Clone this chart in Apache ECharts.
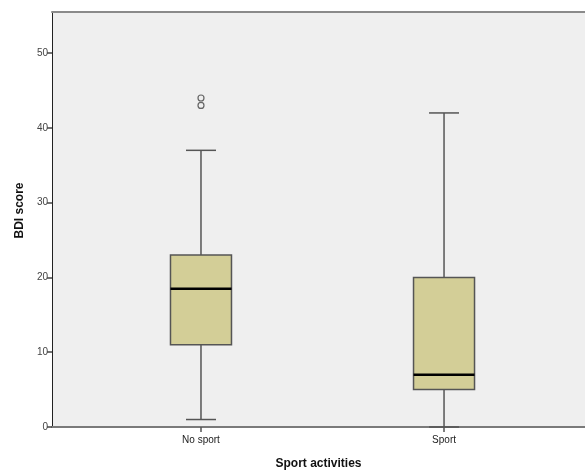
<!DOCTYPE html>
<html>
<head>
<meta charset="utf-8">
<style>
  html, body { margin: 0; padding: 0; background: #ffffff; }
  #chart { width: 585px; height: 475px; }
</style>
<script src="https://cdn.jsdelivr.net/npm/echarts@6/dist/echarts.min.js"></script>
</head>
<body>
<div id="chart"></div>
<script>
// Groups on the horizontal axis and their positions
const categories = ['No sport', 'Sport'];
const categoryPos = [1, 2];

// Five-number summaries per group: [lower whisker, Q1, median, Q3, upper whisker]
const lowerWhisker = [1, 0];
const q1 = [11, 5];
const median = [18.5, 7];
const q3 = [23, 20];
const upperWhisker = [37, 42];

// Outlying values per group
const outliers = [[44, 43], []];

// Vertical axis ticks
const yTicks = [0, 10, 20, 30, 40, 50];

const boxData = categories.map((c, i) => [
  categoryPos[i], lowerWhisker[i], q1[i], median[i], q3[i], upperWhisker[i]
]);
const outlierData = [];
outliers.forEach((vals, i) => vals.forEach(v => outlierData.push([categoryPos[i], v])));

const BOX_W = 61;
const CAP_W = 30;
const lineCol = '#555555';

function renderBox(params, api) {
  const x = api.value(0);
  const pLow = api.coord([x, api.value(1)]);
  const pQ1 = api.coord([x, api.value(2)]);
  const pMed = api.coord([x, api.value(3)]);
  const pQ3 = api.coord([x, api.value(4)]);
  const pHigh = api.coord([x, api.value(5)]);
  const cx = pQ1[0];
  const hb = BOX_W / 2, hc = CAP_W / 2;
  const thin = { stroke: lineCol, lineWidth: 1.5 };
  return {
    type: 'group',
    children: [
      { type: 'line', shape: { x1: cx, y1: pHigh[1], x2: cx, y2: pQ3[1] }, style: thin },
      { type: 'line', shape: { x1: cx, y1: pQ1[1], x2: cx, y2: pLow[1] }, style: thin },
      { type: 'line', shape: { x1: cx - hc, y1: pHigh[1], x2: cx + hc, y2: pHigh[1] }, style: thin },
      { type: 'line', shape: { x1: cx - hc, y1: pLow[1], x2: cx + hc, y2: pLow[1] }, style: thin },
      {
        type: 'rect',
        shape: { x: cx - hb, y: pQ3[1], width: BOX_W, height: pQ1[1] - pQ3[1] },
        style: { fill: '#d3ce97', stroke: lineCol, lineWidth: 1.5 }
      },
      { type: 'line', shape: { x1: cx - hb, y1: pMed[1], x2: cx + hb, y2: pMed[1] }, style: { stroke: '#000000', lineWidth: 2.5 } }
    ]
  };
}

const labelFont = 'Liberation Sans, Arial';

const chart = echarts.init(document.getElementById('chart'), null, { renderer: 'canvas' });
chart.setOption({
  animation: false,
  backgroundColor: '#ffffff',
  grid: {
    left: 52, right: 0, top: 12, bottom: 45,
    show: true,
    backgroundColor: '#efefef',
    borderWidth: 0
  },
  xAxis: [
    {
      type: 'value',
      min: 0.387,
      max: 2.58,
      splitLine: { show: false },
      axisLine: { show: true, onZero: false, lineStyle: { color: '#7a7a7a', width: 2 } },
      axisTick: { show: true, length: 5, customValues: categoryPos, lineStyle: { color: '#555', width: 1.5 } },
      axisLabel: {
        customValues: categoryPos,
        formatter: v => categories[categoryPos.indexOf(Math.round(v))] || '',
        color: '#222', fontFamily: labelFont, fontSize: 10, margin: 8
      },
      name: 'Sport activities',
      nameLocation: 'middle',
      nameGap: 31,
      nameTextStyle: { fontFamily: labelFont, fontSize: 12, fontWeight: 'bold', color: '#111' }
    },
    {
      // top frame line of the plot area
      type: 'value',
      position: 'top',
      min: 0.387,
      max: 2.58,
      splitLine: { show: false },
      axisLine: { show: true, onZero: false, lineStyle: { color: '#8a8a8a', width: 2 } },
      axisTick: { show: false },
      axisLabel: { show: false }
    }
  ],
  yAxis: {
    type: 'value',
    min: 0,
    max: 55.5,
    splitLine: { show: false },
    axisLine: { show: true, lineStyle: { color: '#222', width: 1 } },
    axisTick: { show: true, length: 5, customValues: yTicks, lineStyle: { color: '#444', width: 1.5 } },
    axisLabel: {
      customValues: yTicks,
      color: '#444', fontFamily: labelFont, fontSize: 10, margin: 4
    },
    name: 'BDI score',
    nameLocation: 'middle',
    nameGap: 26,
    nameTextStyle: { fontFamily: labelFont, fontSize: 12, fontWeight: 'bold', color: '#111', padding: [0, 0, 0, 18] }
  },
  series: [
    {
      type: 'custom',
      renderItem: renderBox,
      data: boxData,
      encode: { x: 0, y: [1, 2, 3, 4, 5] },
      z: 3
    },
    {
      type: 'scatter',
      data: outlierData,
      symbol: 'circle',
      symbolSize: 6,
      itemStyle: { color: 'rgba(0,0,0,0)', borderColor: '#444', borderWidth: 1.2 },
      z: 4
    }
  ]
});
</script>
</body>
</html>
